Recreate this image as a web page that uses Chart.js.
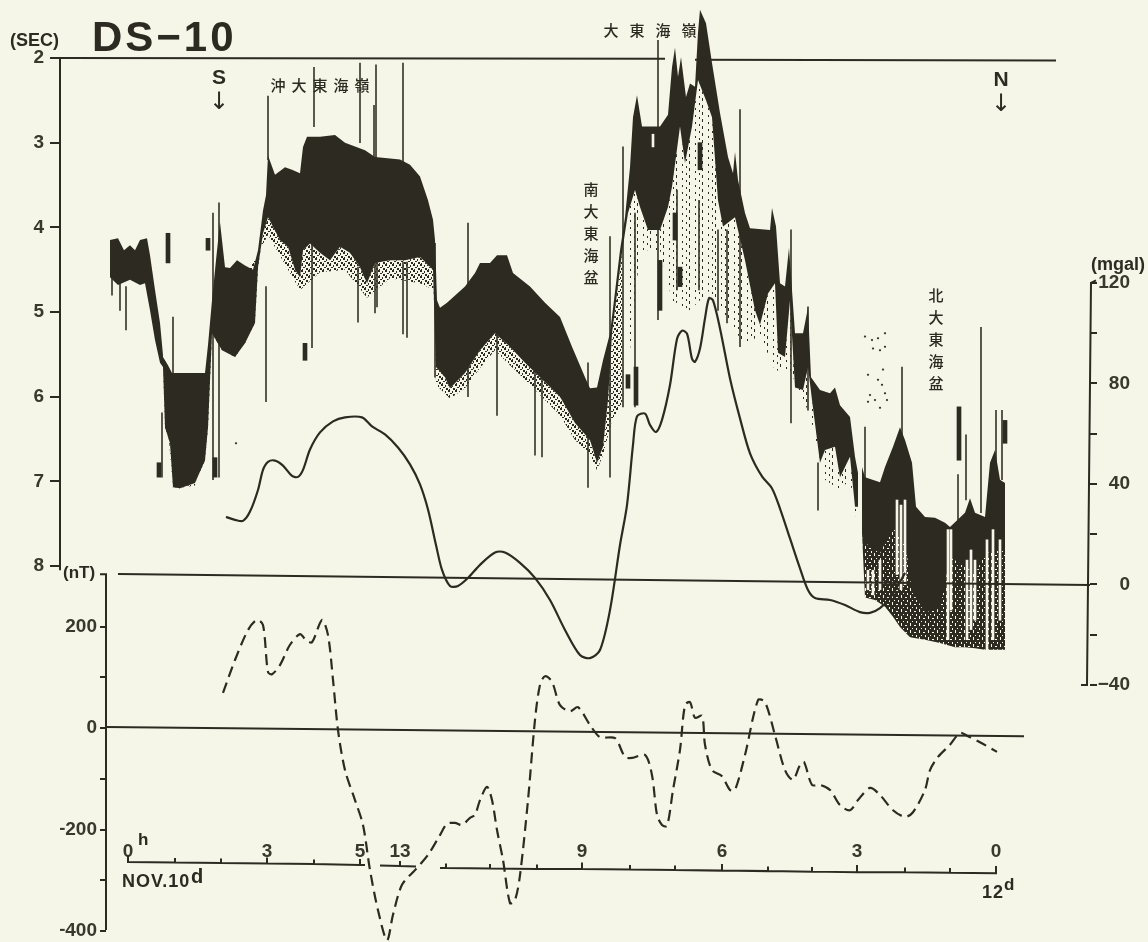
<!DOCTYPE html>
<html>
<head>
<meta charset="utf-8">
<title>DS-10</title>
<script src="https://cdn.jsdelivr.net/npm/chart.js@4"></script>
<style>
    html, body { margin: 0; padding: 0; background: #f5f5e8; }
    canvas { display: block; }
</style>
</head>
<body>
<canvas id="chart" width="1148" height="942"></canvas>
<script>
// x values: track position along the ship line, 46.4 units = 1 hour
const hourTicks = [0, 139, 232, 272, 454, 594, 729, 868];
const hourLabels = ['0', '3', '5', '13', '9', '6', '3', '0'];

// time axis ticks: position, base (nT), top (nT). base == top means no tick, just line
const timeTickPos = [0, 47, 93, 139, 186, 232, 237, null, 252, 272, 288, null, 312, 318, 362, 409, 454, 502, 547, 594, 640, 684, 729, 777, 822, 868];
const timeTickBase = [-264, -265, -266, -267, -268, -270, -270, null, -271, -272, -273, null, -276, -276, -277, -278, -278, -279, -280, -281, -282, -283, -284, -284, -285, -286];
const timeTickTop = [-250, -256, -257, -255, -259, -258, -270, null, -271, -262, -273, null, -276, -267, -268, -269, -265, -270, -271, -268, -273, -274, -270, -275, -276, -272];

const secTicks = [2, 3, 4, 5, 6, 7, 8];
const magTicks = [200, 100, 0, -100, -200, -300, -400];
const gravTicks = [120, 100, 80, 60, 40, 20, 0, -20, -40];

// seismic section, [track, seconds]
const leftTop = [[-18,4.15],[-10,4.13],[-4,4.27],[2,4.21],[7,4.27],[12,4.15],[19,4.13],[22,4.33],[27,4.74],[32,5.13],[35,5.51]];
const leftBottom = [[-18,4.59],[-10,4.68],[2,4.62],[12,4.68],[17,4.66],[22,4.98],[27,5.33],[32,5.60],[35,5.65]];

const mainTop = [[35,5.53],[40,5.63],[44,5.72],[77,5.72],[80,5.39],[84,4.86],[88,4.39],[92,3.94],[97,4.47],[102,4.48],[109,4.39],[117,4.45],[125,4.50],[130,4.27],[135,3.80],[138,3.62],[140,3.15],[147,3.38],[157,3.29],[164,3.32],[172,3.36],[175,3.05],[179,2.93],[192,2.93],[207,2.91],[217,3.00],[237,3.09],[247,3.17],[272,3.20],[282,3.26],[292,3.40],[300,3.68],[305,3.91],[307,4.15],[309,4.86],[312,4.95],[319,4.89],[337,4.70],[347,4.54],[352,4.42],[362,4.42],[369,4.33],[379,4.33],[385,4.54],[402,4.70],[417,4.89],[432,5.06],[444,5.41],[457,5.77],[462,5.90],[469,5.89],[475,5.57],[482,5.25],[492,4.27],[497,3.88],[502,3.29],[505,2.70],[509,2.44],[514,2.81],[522,2.81],[532,2.81],[540,2.67],[544,2.11],[547,1.88],[550,2.22],[553,1.99],[558,2.46],[562,2.30],[567,2.34],[570,1.70],[572,1.43],[578,1.59],[584,2.06],[592,2.65],[600,3.17],[605,3.36],[607,3.11],[610,3.44],[617,3.83],[622,4.01],[642,4.03],[644,3.77],[648,3.99],[652,4.66],[657,4.70],[661,4.24],[664,4.74],[667,5.25],[675,5.25],[680,4.95],[683,5.77],[692,5.92],[702,5.96],[707,5.89],[712,6.10],[722,6.24],[727,6.71],[730,6.90]];
const mainBottom = [[35,5.65],[37,6.36],[42,6.55],[45,7.07],[52,7.08],[67,7.02],[77,6.75],[80,6.36],[84,5.25],[94,5.45],[107,5.53],[117,5.37],[127,5.13],[130,4.47],[135,4.07],[140,3.88],[152,4.15],[160,4.23],[167,4.50],[172,4.59],[175,4.27],[182,4.19],[192,4.30],[202,4.39],[212,4.23],[222,4.30],[232,4.47],[239,4.66],[247,4.42],[262,4.39],[277,4.39],[292,4.35],[305,4.50],[308,5.65],[317,5.77],[322,5.90],[337,5.72],[352,5.45],[367,5.25],[382,5.41],[397,5.60],[412,5.77],[432,6.00],[447,6.31],[462,6.51],[469,6.78],[475,6.59],[480,6.04],[484,5.25],[489,4.78],[494,4.30],[500,3.83],[507,3.56],[512,3.76],[520,4.03],[532,4.03],[540,3.76],[544,3.52],[552,2.81],[557,3.24],[564,2.81],[570,2.26],[578,2.50],[584,2.70],[590,3.68],[595,3.99],[607,3.88],[617,4.39],[627,4.98],[632,5.15],[640,4.78],[647,4.66],[650,5.48],[657,5.53],[662,4.86],[667,5.89],[675,5.92],[680,5.65],[684,6.04],[692,6.78],[697,6.63],[707,6.59],[712,6.95],[722,6.71],[727,7.30],[730,7.30]];
// loose dotted returns under the solid record
const mainFringe = [[35,5.65],[45,7.09],[67,7.05],[84,5.30],[140,4.09],[157,4.44],[172,4.74],[192,4.53],[217,4.50],[239,4.83],[262,4.60],[292,4.66],[306,4.74],[308,5.86],[322,6.02],[337,5.90],[352,5.66],[367,5.45],[382,5.63],[397,5.80],[412,5.98],[432,6.22],[447,6.51],[462,6.69],[469,6.87],[475,6.69],[484,6.28],[497,6.04]];
const peakFringe = [[497,6.04],[512,4.27],[532,4.27],[544,4.86],[562,4.98],[582,4.74],[599,5.09],[617,5.39],[632,5.27],[647,5.69],[662,5.69],[682,6.22],[697,6.98],[712,7.10],[722,6.98],[730,7.57]];

const rightTop = [[734,6.83],[737,6.95],[752,7.01],[757,6.83],[765,6.59],[772,6.36],[777,6.51],[784,6.78],[788,7.30],[797,7.42],[807,7.43],[817,7.49],[822,7.54],[837,7.37],[842,7.20],[847,7.37],[857,7.42],[862,6.78],[867,6.63],[872,6.98],[877,7.02]];
const rightBottom = [[734,7.61],[737,8.37],[747,8.40],[757,8.48],[765,8.60],[772,8.72],[782,8.84],[797,8.87],[812,8.91],[827,8.96],[837,8.96],[847,8.97],[857,8.99],[877,8.99]];
// where the right part of the record breaks up into specks
const rightSpeck = [[734,7.70],[752,7.85],[765,7.55],[777,7.70],[784,8.30],[797,8.55],[812,8.50],[822,7.90],[837,8.00],[847,8.10],[857,7.85],[877,7.80]];

// thin vertical streaks on the record
const streakX = [-2,-8,-16,45,34,85,91,138,140,184,230,247,249,275,279,307,186,232,246,248,275,279,340,369,407,414,460,482,495,507,530,530,549,571,590,599,612,663,680,690,737,774,830,838,853,868,874];
const streakFrom = [4.70,4.59,4.50,5.06,6.19,3.83,3.71,4.70,2.45,4.19,4.47,4.15,4.27,4.41,4.41,4.19,2.11,2.06,2.56,2.08,2.06,3.26,3.95,5.25,5.57,5.74,5.60,4.11,3.05,3.83,1.79,4.03,3.56,3.68,4.03,4.03,2.61,4.03,4.94,6.78,6.36,5.65,6.92,6.45,5.18,6.16,6.16];
const streakTo = [5.21,4.98,4.80,5.72,6.95,6.98,6.95,6.06,3.20,5.42,5.12,5.01,4.94,5.26,5.30,5.77,2.81,3.00,3.20,3.26,3.26,3.71,6.00,6.22,6.69,6.71,7.07,6.95,6.12,6.12,2.81,5.09,4.74,4.74,4.98,5.13,5.41,6.31,6.16,7.34,7.42,7.02,7.57,7.22,7.37,6.98,6.98];

// thick side echoes
const blobX = [40,80,31,87,177,532,508,500,572,547,552,831,877];
const blobFrom = [4.07,4.13,6.78,6.72,5.37,4.39,5.65,5.74,3.00,3.83,4.47,6.12,6.28];
const blobTo = [4.42,4.27,6.95,6.95,5.57,4.98,6.10,5.90,3.32,4.15,4.70,6.75,6.55];

// pale columns inside the dark record
const gapX = [525,769,773,777,752,745,740,820,823,839,843,847,859,865,872];
const gapFrom = [2.90,7.22,7.28,7.22,7.93,8.05,8.05,7.57,7.57,7.93,7.81,7.93,7.69,7.57,7.69];
const gapTo = [3.05,8.10,8.28,8.22,8.28,8.34,8.28,8.87,8.52,8.87,8.75,8.64,8.99,8.87,8.64];

const speckX = [737,744,750,757,745,752,757,740,750,755,754,757,742,747,759,752,740,108];
const speckSec = [5.29,5.33,5.31,5.25,5.43,5.45,5.41,5.74,5.80,5.68,5.86,5.96,5.98,6.04,6.04,6.13,6.06,6.55];

// free-air gravity, [track, mgal]
const gravity = [[98,26.9],[107,25.7],[115,25.3],[122,29],[130,37.6],[135,45.6],[140,48.8],[147,49.3],[155,47.3],[164,43.2],[170,42.8],[175,45.6],[182,53.7],[192,60.5],[205,64.9],[217,66.5],[234,66.5],[244,62.9],[257,59.7],[270,54.5],[282,47.8],[292,39.8],[300,29.8],[308,15.7],[314,5.8],[322,-0.6],[330,-0.6],[340,2.6],[352,7.8],[367,12.7],[377,12.7],[392,8.6],[407,2.6],[422,-6.2],[437,-18.1],[452,-28.1],[462,-29.3],[472,-26.1],[482,-10.2],[492,15.7],[499,31.6],[505,55.5],[509,66.9],[517,68],[522,63.5],[528,60.7],[534,65.5],[542,79.4],[549,97.7],[554,101],[559,99.8],[564,89.8],[567,88.6],[572,93.9],[577,105.9],[581,113.9],[585,113.1],[592,101.9],[602,82],[612,66.1],[622,52.2],[634,43],[644,38.2],[652,30.2],[662,18.3],[672,6.4],[680,-2.2],[687,-5.4],[702,-6.2],[717,-8.2],[732,-11],[742,-11.3],[752,-9.4],[762,-5.4],[772,1],[777,4.6]];

// magnetic anomaly, [track, nT]
const magnetic = [[95,69],[107,134],[120,193],[129,213],[135,203],[140,110],[144,106],[152,124],[162,164],[172,185],[178,173],[184,169],[194,213],[200,183],[205,95],[210,-4],[217,-83],[227,-142],[235,-191],[242,-280],[250,-359],[259,-418],[265,-368],[274,-309],[287,-280],[300,-250],[312,-211],[319,-189],[327,-187],[334,-191],[342,-177],[347,-171],[352,-142],[359,-116],[364,-142],[369,-201],[375,-260],[382,-345],[387,-339],[392,-290],[400,-142],[407,16],[412,85],[417,102],[424,91],[432,45],[442,33],[450,41],[462,6],[472,-18],[487,-20],[497,-57],[504,-59],[517,-53],[524,-93],[529,-171],[534,-191],[539,-193],[545,-122],[552,-43],[557,45],[562,51],[567,20],[574,24],[577,-33],[584,-83],[594,-95],[602,-122],[607,-122],[617,-53],[630,55],[637,51],[647,-14],[657,-83],[665,-102],[672,-73],[676,-67],[684,-112],[692,-112],[702,-122],[712,-152],[722,-162],[730,-142],[742,-118],[752,-132],[765,-162],[777,-175],[785,-166],[797,-122],[802,-83],[810,-57],[822,-33],[832,-10],[840,-16],[852,-28],[869,-47]];

const ink = '#2d2a21';
const soft = '#3a372c';
const paper = '#f5f5e8';

function pts(list) {
    return list.map(p => ({x: p[0], y: p[1]}));
}

function bars(xs, from, to) {
    return xs.map((x, i) => ({x: x, y: [from[i], to[i]]}));
}

function rule(data, axis, width) {
    return {
        type: 'line', data: data, yAxisID: axis, borderColor: ink, borderWidth: width || 2,
        pointRadius: 0, tension: 0, clip: false, order: 1
    };
}

// little dotted tiles for the broken up parts of the record
function dotPattern(color, w, h, dots) {
    const tile = document.createElement('canvas');
    tile.width = w;
    tile.height = h;
    const c = tile.getContext('2d');
    c.fillStyle = color;
    dots.forEach(d => c.fillRect(d[0], d[1], d[2], d[3]));
    return c.createPattern(tile, 'repeat');
}

const denseDots = dotPattern(ink, 7, 6, [[0,0,2,2],[4,1,1,2],[2,3,2,1],[5,4,2,2],[1,5,1,1]]);
const columnDots = dotPattern(ink, 13, 7, [[0,0,1,3],[6,3,1,2],[10,5,1,2]]);
const paleDots = dotPattern(paper, 9, 7, [[1,0,1,3],[5,2,2,1],[7,5,1,2],[3,5,1,1]]);

function band(top, bottom, fillColor, order) {
    return [
        {type: 'line', data: pts(top), yAxisID: 'y', borderWidth: 0, backgroundColor: fillColor, fill: '+1', pointRadius: 0, tension: 0, order: order},
        {type: 'line', data: pts(bottom), yAxisID: 'y', borderWidth: 0, pointRadius: 0, tension: 0, order: order}
    ];
}

function barSet(data, thick, color, order) {
    return {type: 'bar', data: data, yAxisID: 'y', backgroundColor: color, barThickness: thick, grouped: false, order: order};
}

// time axis with its hour ticks, up and back down at each mark
const timeAxis = [];
timeTickPos.forEach((x, i) => {
    if (x === null) {
        timeAxis.push({x: timeTickPos[i - 1] + 1, y: null});
        return;
    }
    timeAxis.push({x: x, y: timeTickBase[i]}, {x: x, y: timeTickTop[i]}, {x: x, y: timeTickBase[i]});
});

const datasets = [
    ...band(mainBottom.filter(p => p[0] <= 497), mainFringe, denseDots, 7),
    ...band(mainBottom.filter(p => p[0] >= 497), peakFringe, columnDots, 7),
    ...band(leftTop, leftBottom, ink, 5),
    ...band(mainTop, mainBottom, ink, 5),
    ...band(rightTop, rightBottom, ink, 5),
    ...band(rightSpeck, rightBottom, paleDots, 4),
    barSet(bars(streakX, streakFrom, streakTo), 1, soft, 6),
    barSet(bars(blobX, blobFrom, blobTo), 4, ink, 3),
    barSet(bars(gapX, gapFrom, gapTo), 2, paper, 3),
    {type: 'scatter', data: speckX.map((x, i) => ({x: x, y: speckSec[i]})), yAxisID: 'y', backgroundColor: ink, pointRadius: 1, order: 3},
    rule(pts([[-68, 2], [537, 2.01], [537, null], [567, null], [567, 2.02], [928, 2.03]]), 'y'),
    rule(pts([[-68, 2], [-68, 8.05]]), 'y'),
    rule(pts([[-28, 303], [-22, 303], [-22, -398]]), 'yMag'),
    rule(pts([[968, 121], [963, 120], [959, -40], [953, -40]]), 'yGrav'),
    rule(pts([[-10, 4.2], [962, -0.2]]), 'yGrav'),
    rule(pts([[-22, 2], [896, -16]]), 'yMag'),
    rule(timeAxis, 'yMag'),
    {type: 'line', data: pts(gravity), yAxisID: 'yGrav', borderColor: ink, borderWidth: 2.2, pointRadius: 0, tension: 0.3, order: 0},
    {type: 'line', data: pts(magnetic), yAxisID: 'yMag', borderColor: ink, borderWidth: 2.2, borderDash: [11, 6], pointRadius: 0, tension: 0.3, clip: false, order: 0}
];

function tickGrid(len) {
    return {drawOnChartArea: false, drawTicks: true, tickLength: len, color: ink, lineWidth: 2};
}

const tickFont = {family: '"Liberation Sans", Arial, sans-serif', size: 19, weight: 'bold'};

// no room kept for the end labels, the plot fills the sheet
function fitAxis(axis, width) {
    axis.width = width;
    axis.paddingTop = 0;
    axis.paddingBottom = 0;
    axis.paddingLeft = 0;
    axis.paddingRight = 0;
}

// free text of the drawing, placed on the scales
function text(ctx, str, x, y, font, align) {
    ctx.font = font;
    ctx.textAlign = align || 'left';
    ctx.textBaseline = 'alphabetic';
    ctx.fillText(str, x, y);
}

const sans = '"Liberation Sans", Arial, sans-serif';
const cjk = '500 15px "Noto Sans CJK JP", sans-serif';

const notes = {
    id: 'notes',
    beforeDraw(chart) {
        const c = chart.ctx;
        c.save();
        c.fillStyle = paper;
        c.fillRect(0, 0, chart.width, chart.height);
        c.restore();
    },
    afterDraw(chart) {
        const c = chart.ctx;
        const sx = chart.scales.x;
        const sy = chart.scales.y;
        const px = v => sx.getPixelForValue(v);
        const py = v => sy.getPixelForValue(v);
        c.save();
        c.fillStyle = ink;
        c.letterSpacing = '3px';
        text(c, 'DS\u221210', px(-36), py(1.92), 'bold 42px ' + sans);
        c.letterSpacing = '0px';
        text(c, '(SEC)', 10, 46, 'bold 18px ' + sans);
        text(c, 'S', px(91), py(2.31), 'bold 21px ' + sans, 'center');
        text(c, '↓', px(91), py(2.60), '24px "DejaVu Sans"', 'center');
        text(c, 'N', px(873), py(2.33), 'bold 21px ' + sans, 'center');
        text(c, '↓', px(873), py(2.62), '24px "DejaVu Sans"', 'center');
        text(c, '(mgal)', 1118, 270, 'bold 18px ' + sans, 'center');
        text(c, '(nT)', 63, 578, 'bold 17px ' + sans);
        text(c, 'h', 138, 845, 'bold 17px ' + sans);
        c.letterSpacing = '1px';
        text(c, 'NOV.10', 122, 887, 'bold 18px ' + sans);
        text(c, '12', 982, 898, 'bold 18px ' + sans);
        c.letterSpacing = '0px';
        text(c, 'd', 191, 883, 'bold 20px ' + sans);
        text(c, 'd', 1004, 890, 'bold 17px ' + sans);
        '沖大東海嶺'.split('').forEach((ch, i) => text(c, ch, px(150 + i * 21), py(2.39), cjk, 'center'));
        '大東海嶺'.split('').forEach((ch, i) => text(c, ch, px(483 + i * 26), py(1.74), cjk, 'center'));
        '南大東海盆'.split('').forEach((ch, i) => text(c, ch, px(463), py(3.62 + i * 0.26), cjk, 'center'));
        '北大東海盆'.split('').forEach((ch, i) => text(c, ch, px(808), py(4.87 + i * 0.26), cjk, 'center'));
        c.restore();
    }
};

new Chart(document.getElementById('chart'), {
    type: 'line',
    data: {datasets: datasets},
    plugins: [notes],
    options: {
        responsive: false,
        animation: false,
        events: [],
        layout: {padding: {left: 0, top: 0, bottom: 0, right: 18}},
        plugins: {legend: {display: false}, tooltip: {enabled: false}},
        scales: {
            x: {
                type: 'linear', min: -22, max: 962, offset: false,
                position: {yMag: -205},
                grid: {display: false},
                border: {display: false},
                afterBuildTicks: axis => { axis.ticks = hourTicks.map(v => ({value: v})); },
                afterFit: axis => { axis.paddingLeft = 0; axis.paddingRight = 0; },
                ticks: {
                    autoSkip: false, maxRotation: 0, padding: 0, color: soft, font: {family: tickFont.family, size: 19, weight: 'bold'},
                    callback: v => hourLabels[hourTicks.indexOf(v)]
                }
            },
            y: {
                type: 'linear', position: 'left', reverse: true, min: 1.374, max: 12.381, weight: 2,
                afterFit: axis => fitAxis(axis, 60),
                grid: tickGrid(10),
                border: {display: false},
                afterBuildTicks: axis => { axis.ticks = secTicks.map(v => ({value: v})); },
                ticks: {autoSkip: false, padding: 6, color: soft, font: tickFont}
            },
            yMag: {
                type: 'linear', axis: 'y', position: 'left', min: -411.8, max: 1424.6, weight: 1,
                afterFit: axis => fitAxis(axis, 46),
                grid: tickGrid(6),
                border: {display: false},
                afterBuildTicks: axis => { axis.ticks = magTicks.map(v => ({value: v})); },
                ticks: {
                    autoSkip: false, padding: 3, color: soft, font: tickFont,
                    callback: v => v % 200 === 0 ? String(v).replace('-', '\u2212') : ''
                }
            },
            yGrav: {
                type: 'linear', axis: 'y', position: 'right', min: -140.3, max: 230.6,
                afterFit: axis => fitAxis(axis, 40),
                grid: tickGrid(7),
                border: {display: false},
                afterBuildTicks: axis => { axis.ticks = gravTicks.map(v => ({value: v})); },
                ticks: {
                    autoSkip: false, padding: 8, crossAlign: 'far', color: soft, font: tickFont,
                    callback: v => v % 40 === 0 ? String(v).replace('-', '\u2212') : ''
                }
            }
        }
    }
});
</script>
</body>
</html>
